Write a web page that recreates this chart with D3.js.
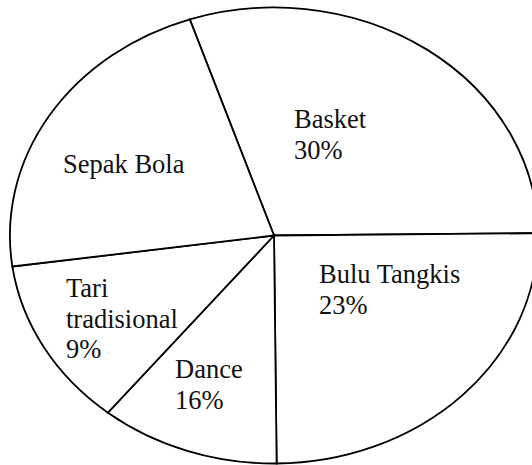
<!DOCTYPE html>
<html>
<head>
<meta charset="utf-8">
<script src="https://cdn.jsdelivr.net/npm/d3@7"></script>
<style>
  body { margin: 0; background: #fff; }
  svg { display: block; }
</style>
</head>
<body>
<svg id="chart" width="532" height="465"></svg>
<script>
'use strict'

// slices as drawn in the picture (share of the full turn)
const categories = ['Basket', 'Bulu Tangkis', 'Dance', 'Tari tradisional', 'Sepak Bola']
const shares = [30, 25, 11, 12, 22]
const percentLabels = ['30%', '23%', '16%', '9%', '']

const cx = 274
const cy = 235.5
const rx = 264
const ry = 228

const svg = d3.select('#chart')

const pie = d3.pie()
  .sort(null)
  .value(d => d.share)
  .startAngle(-18.6 * Math.PI / 180)
  .endAngle((360 - 18.6) * Math.PI / 180)

const data = categories.map((c, i) => ({ name: c, share: shares[i], pct: percentLabels[i] }))
const arcs = pie(data)

// unit arc, stretched to the ellipse
const arc = d3.arc().innerRadius(0).outerRadius(1)

const g = svg.append('g')
  .attr('transform', `translate(${cx},${cy}) scale(${rx},${ry})`)

g.selectAll('path')
  .data(arcs)
  .join('path')
  .attr('d', arc)
  .attr('fill', '#fff')
  .attr('stroke', '#000')
  .attr('stroke-width', 1.8)
  .attr('vector-effect', 'non-scaling-stroke')

// label placement (left x, first baseline) by slice name
const labelAt = {
  'Basket': [294, 128],
  'Bulu Tangkis': [319, 283],
  'Dance': [175, 378],
  'Tari tradisional': [66, 297],
  'Sepak Bola': [63, 173]
}
const lineGap = 30.5

const labels = svg.selectAll('text.lbl')
  .data(arcs)
  .join('text')
  .attr('class', 'lbl')
  .attr('font-family', 'Liberation Serif, DejaVu Serif, serif')
  .attr('font-size', 26.5)
  .attr('fill', '#111')
  .attr('x', d => labelAt[d.data.name][0])
  .attr('y', d => labelAt[d.data.name][1])

labels.each(function (d) {
  const t = d3.select(this)
  let lines = [d.data.name]
  if (d.data.name === 'Tari tradisional') lines = ['Tari', 'tradisional']
  if (d.data.pct) lines.push(d.data.pct)
  lines.forEach((s, i) => {
    t.append('tspan')
      .attr('x', labelAt[d.data.name][0])
      .attr('dy', i === 0 ? 0 : lineGap)
      .text(s)
  })
})
</script>
</body>
</html>
